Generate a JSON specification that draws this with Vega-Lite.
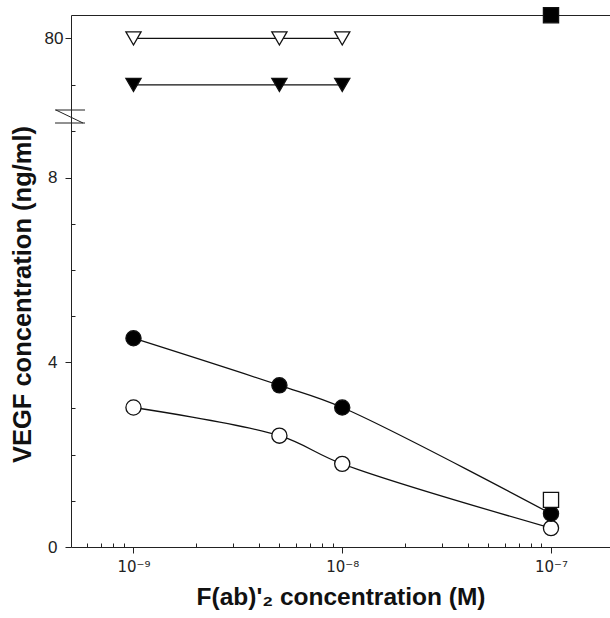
{
  "$schema": "https://vega.github.io/schema/vega-lite/v6.json",
  "autosize": "none",
  "width": 539,
  "height": 532,
  "padding": {"left": 71, "top": 15, "right": 0, "bottom": 71},
  "background": "white",
  "config": {
    "font": "Liberation Sans",
    "view": {"stroke": null},
    "axis": {"grid": false, "domainColor": "#222", "tickColor": "#222", "labelColor": "#222", "titleColor": "#111", "domainWidth": 1, "tickWidth": 1}
  },
  "datasets": {
    "pts": [
      {"conc": 1e-9, "vegf": 3.02, "series": "B"},
      {"conc": 5e-9, "vegf": 2.41, "series": "B"},
      {"conc": 1e-8, "vegf": 1.8, "series": "B"},
      {"conc": 1e-7, "vegf": 0.41, "series": "B"},
      {"conc": 1e-9, "vegf": 4.52, "series": "A"},
      {"conc": 5e-9, "vegf": 3.5, "series": "A"},
      {"conc": 1e-8, "vegf": 3.02, "series": "A"},
      {"conc": 1e-7, "vegf": 0.72, "series": "A"},
      {"conc": 1e-7, "vegf": 1.02, "series": "F"},
      {"conc": 1e-9, "vegf": 80, "series": "C"},
      {"conc": 5e-9, "vegf": 80, "series": "C"},
      {"conc": 1e-8, "vegf": 80, "series": "C"},
      {"conc": 1e-9, "vegf": 70, "series": "D"},
      {"conc": 5e-9, "vegf": 70, "series": "D"},
      {"conc": 1e-8, "vegf": 70, "series": "D"},
      {"conc": 1e-7, "vegf": 85, "series": "E"}
    ],
    "breaks": [
      {"xa": 4.21e-10, "xb": 5.86e-10, "ya": 64.6, "yb": 64.6},
      {"xa": 4.21e-10, "xb": 5.86e-10, "ya": 9.18, "yb": 9.18},
      {"xa": 4.25e-10, "xb": 5.73e-10, "ya": 64.6, "yb": 9.18}
    ]
  },
  "resolve": {"axis": {"x": "independent", "y": "independent"}},
  "layer": [
    {
      "data": {"name": "breaks"},
      "mark": {"type": "rule", "color": "#222", "strokeWidth": 1, "clip": false},
      "encoding": {
        "x": {"field": "xa", "type": "quantitative", "scale": {"type": "log", "domain": [5.02e-10, 1.917e-7], "nice": false}, "axis": null},
        "x2": {"field": "xb"},
        "y": {"field": "ya", "type": "quantitative", "scale": {"domain": [0, 9.18, 64.6, 85.05], "range": [532, 108, 95, 0], "zero": false, "nice": false}, "axis": null},
        "y2": {"field": "yb"}
      }
    },
    {
      "data": {"name": "pts"},
      "transform": [{"filter": "datum.series == 'A' || datum.series == 'B'"}],
      "mark": {"type": "line", "interpolate": "catmull-rom", "color": "#111", "strokeWidth": 1.3},
      "encoding": {
        "x": {"field": "conc", "type": "quantitative", "axis": {
          "values": [1e-9, 1e-8, 1e-7], "orient": "bottom", "tickSize": 6, "labelFont": "DejaVu Sans", "labelFontSize": 15, "labelPadding": 6,
          "labelExpr": "datum.value < 5e-9 ? '10⁻⁹' : (datum.value < 5e-8 ? '10⁻⁸' : '10⁻⁷')",
          "title": "F(ab)'₂ concentration (M)", "titleFontSize": 24.5, "titleFontWeight": "bold", "titlePadding": 11
        }},
        "y": {"field": "vegf", "type": "quantitative", "axis": {
          "values": [0, 4, 8, 80], "orient": "left", "tickSize": 6, "labelFontSize": 17,
          "labelPadding": {"condition": {"test": "datum.value == 80", "value": 2}, "value": 8},
          "title": "VEGF concentration (ng/ml)", "titleFontSize": 25.5, "titleFontWeight": "bold", "titlePadding": 9, "titleY": 279
        }},
        "detail": {"field": "series"}
      }
    },
    {
      "data": {"name": "pts"},
      "transform": [{"filter": "datum.series == 'C' || datum.series == 'D'"}],
      "mark": {"type": "line", "color": "#111", "strokeWidth": 1.3},
      "encoding": {
        "x": {"field": "conc", "type": "quantitative", "axis": {
          "values": [6e-10, 7e-10, 8e-10, 9e-10, 2e-9, 3e-9, 4e-9, 5e-9, 6e-9, 7e-9, 8e-9, 9e-9, 2e-8, 3e-8, 4e-8, 5e-8, 6e-8, 7e-8, 8e-8, 9e-8],
          "orient": "bottom", "tickSize": -4, "labels": false, "domain": false, "title": null
        }},
        "y": {"field": "vegf", "type": "quantitative", "axis": {
          "values": [1, 2, 3, 5, 6, 7, 9, 70], "orient": "left", "tickSize": -4, "labels": false, "domain": false, "title": null
        }},
        "detail": {"field": "series"}
      }
    },
    {
      "data": {"name": "pts"},
      "mark": {"type": "point", "filled": false, "stroke": "#111", "strokeWidth": 1.3, "opacity": 1},
      "encoding": {
        "x": {"field": "conc", "type": "quantitative", "axis": {"orient": "top", "ticks": false, "labels": false, "title": null, "domain": true}},
        "y": {"field": "vegf", "type": "quantitative", "axis": null},
        "shape": {"field": "series", "type": "nominal", "legend": null, "scale": {"domain": ["A", "B", "C", "D", "E", "F"], "range": ["circle", "circle", "triangle-down", "triangle-down", "square", "square"]}},
        "fill": {"field": "series", "type": "nominal", "legend": null, "scale": {"domain": ["A", "B", "C", "D", "E", "F"], "range": ["#000", "#fff", "#fff", "#000", "#000", "#fff"]}},
        "size": {"field": "series", "type": "nominal", "legend": null, "scale": {"domain": ["A", "B", "C", "D", "E", "F"], "range": [230, 230, 170, 170, 210, 190]}}
      }
    }
  ]
}
